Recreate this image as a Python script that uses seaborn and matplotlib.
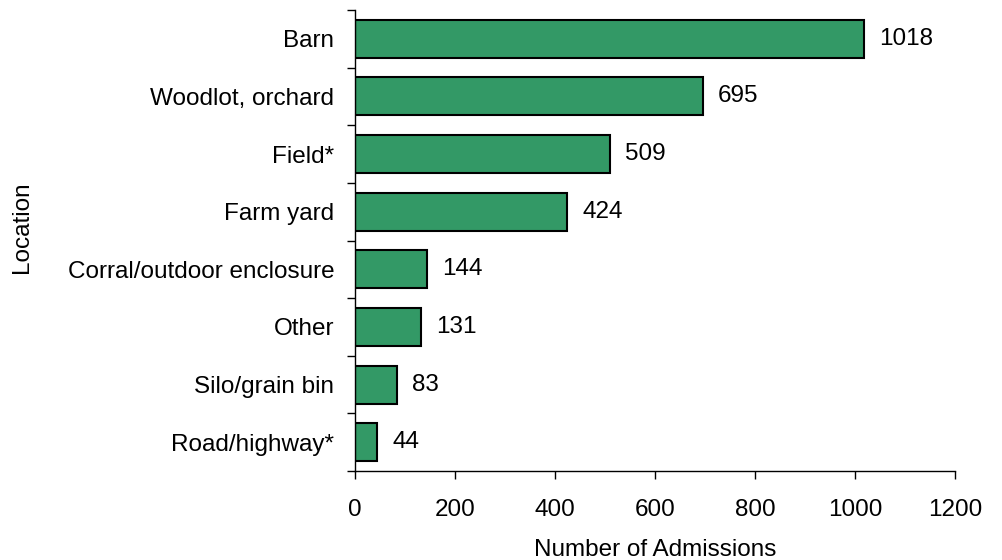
import matplotlib
matplotlib.use("Agg")
import matplotlib.pyplot as plt
import seaborn as sns
import numpy as np
import pandas as pd

categories = ["Barn", "Woodlot, orchard", "Field*", "Farm yard",
              "Corral/outdoor enclosure", "Other", "Silo/grain bin", "Road/highway*"]
admissions = [1018, 695, 509, 424, 144, 131, 83, 44]
x_ticks = [0, 200, 400, 600, 800, 1000, 1200]

sns.set_theme(style="white")
plt.rcParams['font.family'] = ['Liberation Sans', 'DejaVu Sans']
plt.rcParams['text.color'] = 'black'
plt.rcParams['axes.labelcolor'] = 'black'
plt.rcParams['xtick.color'] = 'black'
plt.rcParams['ytick.color'] = 'black'

FS = 17.5

df = pd.DataFrame({"Location": categories, "Number of Admissions": admissions})

fig = plt.figure(figsize=(10.02, 5.6), dpi=100)
ax = fig.add_axes([355/1002, (560-471)/560, (955-355)/1002, (471-10)/560])

sns.barplot(data=df, x="Number of Admissions", y="Location", orient="h",
            color="#339966", saturation=1, edgecolor="black", linewidth=1.5,
            width=0.66, ax=ax)

ax.set_xlim(0, 1200)
ax.set_ylim(len(categories) - 0.5, -0.5)
ax.set_xticks(x_ticks)
ax.set_xticklabels([str(t) for t in x_ticks], fontsize=FS)
ax.tick_params(axis="x", direction="out", length=6, width=1, pad=14, bottom=True)
ax.set_yticks(range(len(categories)))
ax.set_yticklabels(categories, fontsize=FS)
ax.tick_params(axis="y", which="major", length=0, pad=15)
ax.set_yticks(np.arange(-0.5, len(categories)), minor=True)
ax.tick_params(axis="y", which="minor", direction="out", length=6, width=1, left=True)

for s in ["top", "right"]:
    ax.spines[s].set_visible(False)
for s in ["left", "bottom"]:
    ax.spines[s].set_color("black")
    ax.spines[s].set_linewidth(1)

ax.set_xlabel("Number of Admissions", fontsize=FS)
ax.set_ylabel("Location", fontsize=FS)
ax.xaxis.set_label_coords(0.5, -(550-471)/461)
ax.yaxis.set_label_coords((22-355)/600, (471-227)/461)
ax.xaxis.label.set_va("center")
ax.yaxis.label.set_va("center")

for i, v in enumerate(admissions):
    ax.annotate(str(v), xy=(v, i), xytext=(11, 0), textcoords="offset points",
                ha="left", va="center", fontsize=FS, color="black")

fig.savefig("out.png", dpi=100)
